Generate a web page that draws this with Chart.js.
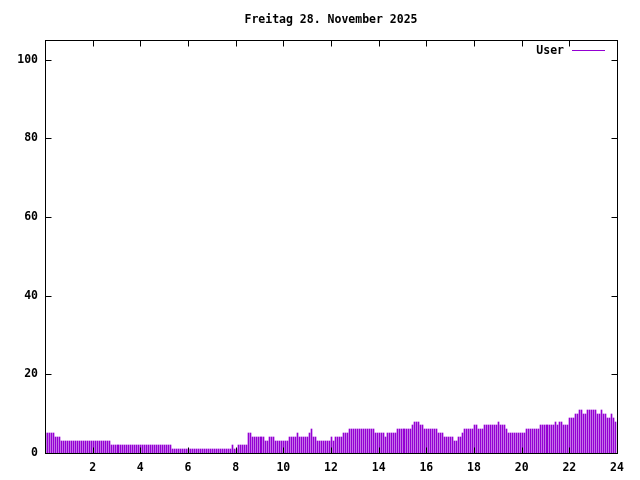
<!DOCTYPE html>
<html>
<head>
<meta charset="utf-8">
<script src="https://cdn.jsdelivr.net/npm/chart.js@4"></script>
<style>
  html, body { margin: 0; padding: 0; background: #fff; }
  #wrap { width: 640px; height: 480px; }
</style>
</head>
<body>
<div id="wrap"><canvas id="chart" width="640" height="480"></canvas></div>
<script>
const chartTitle = 'Freitag 28. November 2025';
const seriesName = 'User';
const slotMinutes = 5;
// one row per hour, one value per 5 minutes
const users = [
  5, 5, 5, 5, 5, 4, 4, 4, 3, 3, 3, 3,
  3, 3, 3, 3, 3, 3, 3, 3, 3, 3, 3, 3,
  3, 3, 3, 3, 3, 3, 3, 3, 3, 2, 2, 2,
  2, 2, 2, 2, 2, 2, 2, 2, 2, 2, 2, 2,
  2, 2, 2, 2, 2, 2, 2, 2, 2, 2, 2, 2,
  2, 2, 2, 2, 1, 1, 1, 1, 1, 1, 1, 1,
  1, 1, 1, 1, 1, 1, 1, 1, 1, 1, 1, 1,
  1, 1, 1, 1, 1, 1, 1, 1, 1, 1, 2, 1,
  1, 2, 2, 2, 2, 2, 5, 5, 4, 4, 4, 4,
  4, 4, 4, 3, 3, 4, 4, 4, 3, 3, 3, 3,
  3, 3, 3, 4, 4, 4, 4, 5, 4, 4, 4, 4,
  4, 5, 6, 4, 4, 3, 3, 3, 3, 3, 3, 3,
  4, 3, 4, 4, 4, 4, 5, 5, 5, 6, 6, 6,
  6, 6, 6, 6, 6, 6, 6, 6, 6, 6, 5, 5,
  5, 5, 5, 4, 5, 5, 5, 5, 5, 6, 6, 6,
  6, 6, 6, 6, 6, 7, 8, 8, 8, 7, 7, 6,
  6, 6, 6, 6, 6, 6, 5, 5, 5, 4, 4, 4,
  4, 4, 3, 3, 4, 4, 5, 6, 6, 6, 6, 6,
  7, 7, 6, 6, 6, 7, 7, 7, 7, 7, 7, 7,
  8, 7, 7, 7, 6, 5, 5, 5, 5, 5, 5, 5,
  5, 5, 6, 6, 6, 6, 6, 6, 6, 7, 7, 7,
  7, 7, 7, 7, 7, 8, 7, 8, 8, 7, 7, 7,
  9, 9, 9, 10, 10, 11, 11, 10, 10, 11, 11, 11,
  11, 11, 10, 10, 11, 10, 10, 9, 9, 10, 9, 8
];
const xRange = [0, 24];
const yRange = [0, 105];

const purple = '#9400d3';
const font = '"DejaVu Sans Mono", "Liberation Mono", monospace';

const points = users.map((v, i) => ({ x: i * slotMinutes / 60, y: v }));

// snap the 1px bars to whole pixels so they look like gnuplot impulses
const crispBars = {
  id: 'crispBars',
  beforeDatasetsDraw(chart) {
    chart.getDatasetMeta(0).data.forEach(el => {
      el.x = Math.round(el.x) + 0.5;
      el.y = Math.round(el.y);
      el.base = Math.round(el.base);
    });
  }
};

// gnuplot style frame, inward ticks, title and legend
const gnuFrame = {
  id: 'gnuFrame',
  afterDraw(chart) {
    const { ctx, chartArea: a, scales: { x, y } } = chart;
    const L = Math.round(a.left) + 0.5, R = Math.round(a.right) + 0.5;
    const T = Math.round(a.top) + 0.5, B = Math.round(a.bottom) + 0.5;
    ctx.save();
    ctx.strokeStyle = '#000';
    ctx.lineWidth = 1;
    ctx.strokeRect(L, T, R - L, B - T);
    ctx.beginPath();
    x.ticks.forEach(t => {
      const px = Math.round(x.getPixelForValue(t.value)) + 0.5;
      ctx.moveTo(px, B); ctx.lineTo(px, B - 6);
      ctx.moveTo(px, T); ctx.lineTo(px, T + 6);
    });
    y.ticks.forEach(t => {
      const py = Math.round(y.getPixelForValue(t.value)) + 0.5;
      ctx.moveTo(L, py); ctx.lineTo(L + 6, py);
      ctx.moveTo(R, py); ctx.lineTo(R - 6, py);
    });
    ctx.stroke();

    ctx.fillStyle = '#000';
    ctx.font = 'bold 11.5px ' + font;
    ctx.textBaseline = 'middle';
    ctx.textAlign = 'center';
    ctx.fillText(chartTitle, (a.left + a.right) / 2, 20);

    ctx.textAlign = 'right';
    ctx.fillText(seriesName, 564, 51);
    ctx.strokeStyle = purple;
    ctx.beginPath();
    ctx.moveTo(572, 50.5); ctx.lineTo(605, 50.5);
    ctx.stroke();
    ctx.restore();
  }
};

new Chart(document.getElementById('chart'), {
  type: 'bar',
  data: {
    datasets: [{
      label: seriesName,
      data: points,
      backgroundColor: purple,
      borderWidth: 0,
      barThickness: 1
    }]
  },
  options: {
    responsive: false,
    animation: false,
    layout: { padding: { top: 40, right: 23, left: 0, bottom: 0 } },
    plugins: {
      legend: { display: false },
      title: { display: false },
      tooltip: { enabled: false }
    },
    scales: {
      x: {
        type: 'linear',
        min: xRange[0],
        max: xRange[1],
        offset: false,
        grid: { display: false, drawTicks: false },
        border: { display: false },
        ticks: {
          stepSize: 2,
          autoSkip: false,
          maxRotation: 0,
          padding: 8,
          color: '#000',
          font: { family: font, size: 11.5, weight: 'bold' },
          callback: v => (v === 0 ? '' : v)
        },
        afterFit: s => { s.height = 27; }
      },
      y: {
        min: yRange[0],
        max: yRange[1],
        grid: { display: false, drawTicks: false },
        border: { display: false },
        ticks: {
          stepSize: 20,
          padding: 7,
          color: '#000',
          font: { family: font, size: 11.5, weight: 'bold' }
        },
        afterBuildTicks: s => { s.ticks = s.ticks.filter(t => t.value % 20 === 0); },
        afterFit: s => { s.width = 45; }
      }
    }
  },
  plugins: [crispBars, gnuFrame]
});
</script>
</body>
</html>
